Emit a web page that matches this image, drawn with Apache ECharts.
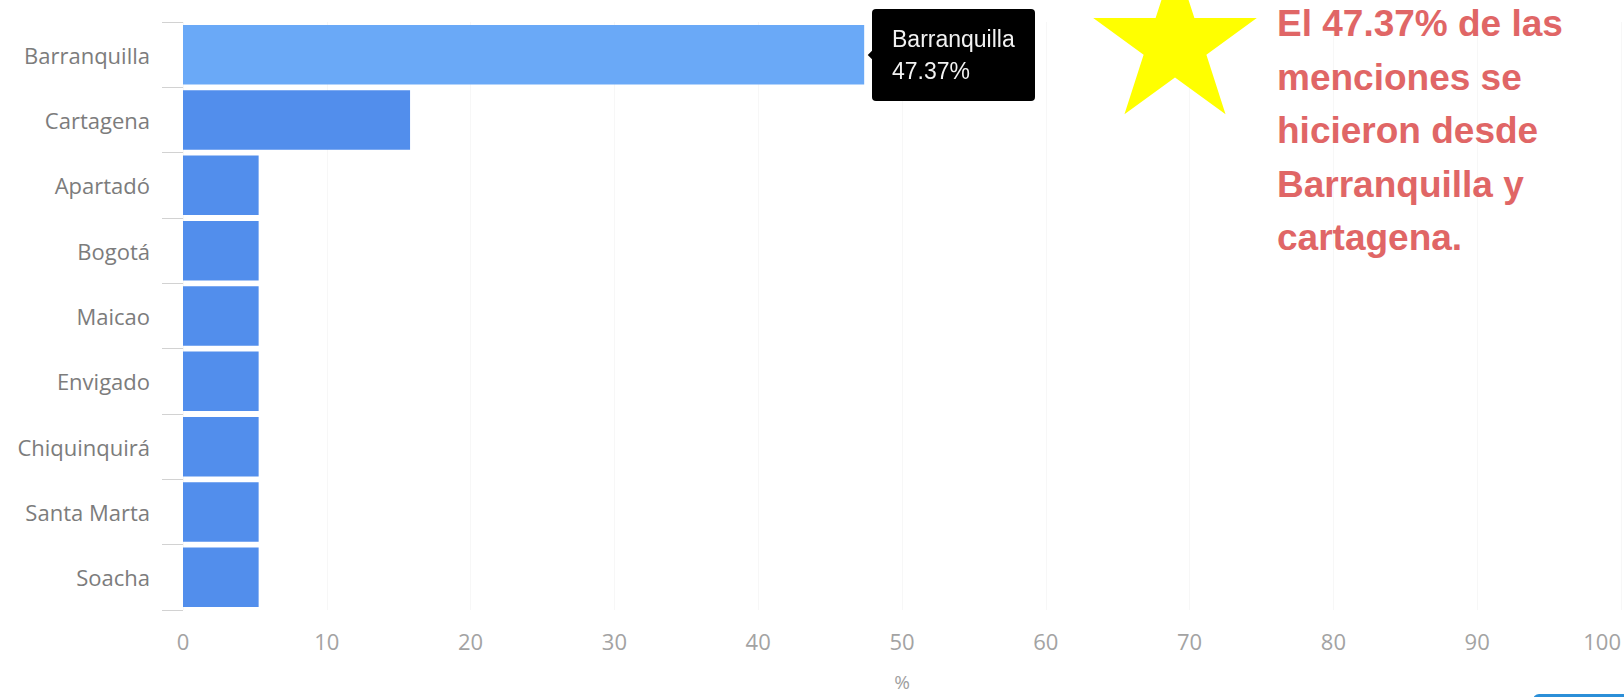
<!DOCTYPE html>
<html>
<head>
<meta charset="utf-8">
<script src="https://cdn.jsdelivr.net/npm/echarts@6/dist/echarts.min.js"></script>
<style>
  html, body { margin: 0; padding: 0; background: #ffffff; }
  #chart { width: 1624px; height: 697px; }
</style>
</head>
<body>
<div id="chart"></div>
<script>
// ---- data ----
const categories = ['Barranquilla', 'Cartagena', 'Apartadó', 'Bogotá', 'Maicao', 'Envigado', 'Chiquinquirá', 'Santa Marta', 'Soacha'];
const shares = [47.37, 15.79, 5.26, 5.26, 5.26, 5.26, 5.26, 5.26, 5.26];
const xTicks = [0, 10, 20, 30, 40, 50, 60, 70, 80, 90, 100];
const highlightedIndex = 0;
const annotationLines = ['El 47.37% de las', 'menciones se', 'hicieron desde', 'Barranquilla y', 'cartagena.'];

// ---- star polygon helper (decoration) ----
function starPoints(cx, cy, R, r) {
  const pts = [];
  for (let i = 0; i < 10; i++) {
    const rad = (i % 2 === 0) ? R : r;
    const a = -Math.PI / 2 + i * Math.PI / 5;
    pts.push([cx + rad * Math.cos(a), cy + rad * Math.sin(a)]);
  }
  return pts;
}

const chart = echarts.init(document.getElementById('chart'), null, { renderer: 'svg' });

const option = {
  animation: false,
  backgroundColor: '#ffffff',
  grid: { left: 183, right: 1, top: 22, bottom: 87, containLabel: false },
  xAxis: {
    type: 'value',
    min: xTicks[0],
    max: xTicks[xTicks.length - 1],
    interval: 10,
    name: '%',
    nameLocation: 'middle',
    nameGap: 62,
    nameTextStyle: { color: '#a0a0a0', fontSize: 19, fontFamily: 'Open Sans' },
    axisLine: { show: false },
    axisTick: { show: false },
    axisLabel: { color: '#a3a3a3', fontSize: 22, fontFamily: 'Open Sans', margin: 20, alignMaxLabel: 'right' },
    splitLine: { show: true, lineStyle: { color: '#f7f7f7', width: 1 } }
  },
  yAxis: {
    type: 'category',
    inverse: true,
    data: categories,
    axisLine: { show: false },
    axisTick: { show: true, length: 21, lineStyle: { color: '#d2d2d2', width: 1 } },
    axisLabel: { color: '#7c7c7c', fontSize: 22, fontFamily: 'Open Sans', margin: 33 },
    splitLine: { show: false }
  },
  tooltip: {
    trigger: 'item',
    triggerOn: 'none',
    alwaysShowContent: true,
    position: 'right',
    backgroundColor: '#000000',
    borderColor: '#000000',
    borderWidth: 0,
    borderRadius: 4,
    padding: [14, 20],
    extraCssText: 'box-shadow:none;',
    textStyle: { color: '#f2f2f2', fontSize: 23, fontFamily: 'Liberation Sans', lineHeight: 32 },
    formatter: function (p) { return p.name + '<br/>' + p.value.toFixed(2) + '%'; }
  },
  series: [{
    type: 'bar',
    barCategoryGap: '9%',
    data: shares.map(function (v, i) {
      return { value: v, itemStyle: { color: i === highlightedIndex ? '#6aa9f7' : '#528eec' } };
    }),
    emphasis: { disabled: true }
  }],
  graphic: [
    {
      type: 'polygon',
      z: 100,
      shape: { points: starPoints(1175, 44.6, 86, 33) },
      style: { fill: '#ffff00' },
      silent: true
    },
    {
      type: 'text',
      z: 100,
      left: 1277,
      top: -3,
      style: {
        text: annotationLines.join('\n'),
        fill: '#e06666',
        font: 'bold 37px "Liberation Sans", Arial, sans-serif',
        lineHeight: 53.5
      },
      silent: true
    },
    {
      type: 'rect',
      z: 100,
      shape: { x: 1533, y: 694, width: 110, height: 20, r: 6 },
      style: { fill: '#2b8fd8' },
      silent: true
    }
  ]
};

chart.setOption(option);
chart.dispatchAction({ type: 'showTip', seriesIndex: 0, dataIndex: highlightedIndex });
</script>
</body>
</html>
